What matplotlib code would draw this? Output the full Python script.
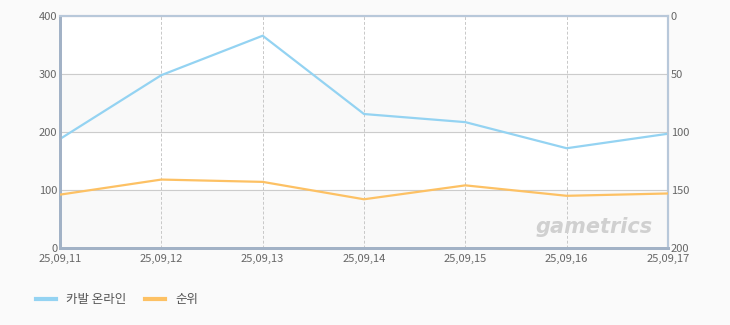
import matplotlib.pyplot as plt
from matplotlib.lines import Line2D

plt.rcParams['font.family'] = ['Noto Sans CJK KR', 'DejaVu Sans']

dates = ['25,09,11', '25,09,12', '25,09,13', '25,09,14', '25,09,15', '25,09,16', '25,09,17']
users = [188, 298, 366, 231, 217, 172, 197]
rank = [154, 141, 143, 158, 146, 155, 153]

fig = plt.figure(figsize=(7.3, 3.25), dpi=100, facecolor='#fafafa')
ax = fig.add_axes([60 / 730, 1 - 248 / 325, 608 / 730, 232 / 325])
ax.set_facecolor('white')

x = range(len(dates))
# alternating bands
for lo in (0, 200):
    ax.axhspan(lo, lo + 100, color='#f9f9f9', zorder=0)
ax.set_xlim(0, len(dates) - 1)
ax.set_ylim(0, 400)
ax.set_yticks([0, 100, 200, 300, 400])
ax.grid(axis='y', color='#cccccc', linewidth=0.8)
for i in x:
    ax.axvline(i, color='#c8c8c8', linestyle=(0, (3, 2)), linewidth=0.7, zorder=1)
ax.plot(x, users, color='#94d3f2', linewidth=1.6, zorder=3)
ax.set_xticks(list(x))
ax.set_xticklabels(dates)

ax2 = ax.twinx()
ax2.set_ylim(200, 0)
ax2.set_yticks([0, 50, 100, 150, 200])
ax2.plot(x, rank, color='#fdc164', linewidth=1.6, zorder=3)

for a in (ax, ax2):
    a.tick_params(length=0, labelsize=8, colors='#666666', pad=2)
    for s in a.spines.values():
        s.set_color('#b8c8da')
        s.set_linewidth(1.5)
    a.spines['left'].set_color('#a2b2c6')
    a.spines['bottom'].set_color('#a2b2c6')
    a.spines['left'].set_linewidth(2)
    a.spines['bottom'].set_linewidth(2)
ax.tick_params(axis='x', pad=4)

ax.text(0.975, 0.09, 'gametrics', transform=ax.transAxes, ha='right', va='center',
        fontsize=15, fontweight='bold', fontstyle='italic', color='#d0d0d0',
        family='DejaVu Sans', zorder=2)

handles = [Line2D([], [], color='#94d3f2', linewidth=3),
           Line2D([], [], color='#fdc164', linewidth=3)]
fig.legend(handles, ['카발 온라인', '순위'], loc='center left',
           bbox_to_anchor=(25 / 730, 1 - 300 / 325), ncol=2, frameon=False,
           fontsize=9, handlelength=1.6, columnspacing=1.5, labelcolor='#555555')

fig.savefig('out.png', dpi=100, facecolor=fig.get_facecolor())
